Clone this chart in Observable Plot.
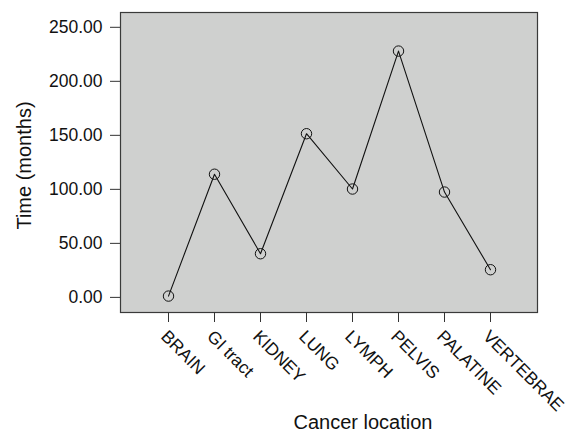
<!DOCTYPE html>
<html>
<head>
<meta charset="utf-8">
<script src="https://cdn.jsdelivr.net/npm/d3@7"></script>
<script src="https://cdn.jsdelivr.net/npm/@observablehq/plot@0.6"></script>
<style>
  html, body { margin: 0; padding: 0; background: #fff; }
  #chart { width: 575px; height: 432px; }
</style>
</head>
<body>
<div id="chart"></div>
<script>
const locations = ["BRAIN", "GI tract", "KIDNEY", "LUNG", "LYMPH", "PELVIS", "PALATINE", "VERTEBRAE"];
const months = [1.2, 114, 40.4, 151.5, 100.3, 228, 97.5, 25.6];
const yTicks = [0, 50, 100, 150, 200, 250];
const xTitle = "Cancer location";
const yTitle = "Time (months)";

const data = locations.map((loc, i) => ({loc, value: months[i]}));
const font = "'Liberation Sans', Arial, Helvetica, sans-serif";

const chart = Plot.plot({
  width: 575,
  height: 432,
  marginLeft: 120,
  marginRight: 38,
  marginTop: 12,
  marginBottom: 120,
  style: {fontFamily: font, fontSize: "17.5px", color: "#111", background: "#fff"},
  x: {type: "point", domain: locations, padding: 0.95, label: null},
  y: {domain: [-14, 263.7], label: null},
  marks: [
    Plot.frame({fill: "#cfd0cf", stroke: "#3a3a3a", strokeWidth: 1.2}),
    Plot.axisY({ticks: yTicks, tickFormat: d3.format(".2f"), tickSize: 10, tickPadding: 8, label: null, fontSize: 17.5, stroke: "#333"}),
    Plot.axisX({tickSize: 10, tickFormat: () => "", label: null, stroke: "#333"}),
    Plot.text(locations, {x: d => d, frameAnchor: "bottom", text: d => d, rotate: 45, textAnchor: "start", lineAnchor: "bottom", dx: -8.5, dy: 25, fontSize: 17.5, fill: "#111"}),
    Plot.line(data, {x: "loc", y: "value", stroke: "#111", strokeWidth: 1.1}),
    Plot.dot(data, {x: "loc", y: "value", r: 5.2, stroke: "#111", fill: "none", strokeWidth: 1}),
    Plot.text([xTitle], {frameAnchor: "bottom", text: d => d, dx: 34, dy: 110, fontSize: 20, textAnchor: "middle", lineAnchor: "middle", fill: "#111"}),
    Plot.text([yTitle], {frameAnchor: "left", text: d => d, dx: -96, dy: 3, rotate: -90, fontSize: 20, textAnchor: "middle", lineAnchor: "middle", fill: "#111"})
  ]
});
document.getElementById("chart").appendChild(chart);
</script>
</body>
</html>
